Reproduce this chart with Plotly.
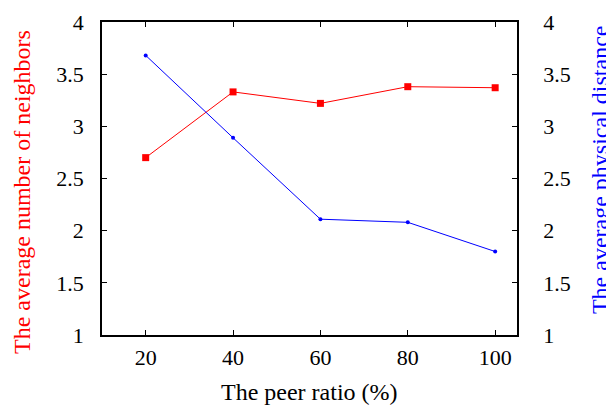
import plotly.graph_objects as go

peer_ratio = [20, 40, 60, 80, 100]
avg_neighbors = [2.70, 3.33, 3.22, 3.38, 3.37]
avg_distance = [3.68, 2.89, 2.11, 2.08, 1.80]
y_ticks = [1, 1.5, 2, 2.5, 3, 3.5, 4]
y_ticktext = ["1", "1.5", "2", "2.5", "3", "3.5", "4"]

FONT = "Liberation Serif"
FS = 22
TFS = 24

fig = go.Figure()
fig.add_trace(go.Scatter(
    x=peer_ratio, y=avg_neighbors, mode="lines+markers",
    line=dict(color="#ff0000", width=1),
    marker=dict(symbol="square", size=7, color="#ff0000"),
    yaxis="y", showlegend=False))
fig.add_trace(go.Scatter(
    x=peer_ratio, y=avg_distance, mode="lines+markers",
    line=dict(color="#0000ff", width=1),
    marker=dict(symbol="circle", size=4, color="#0000ff"),
    yaxis="y2", showlegend=False))

axis_common = dict(
    showgrid=False, zeroline=False, showline=True, linecolor="black", linewidth=1.5,
    ticks="inside", ticklen=5, tickcolor="black", tickwidth=1,
    tickfont=dict(family=FONT, size=FS, color="black"), automargin=False,
)

fig.update_layout(
    width=606, height=407,
    margin=dict(l=102, r=89, t=22, b=72),
    paper_bgcolor="white", plot_bgcolor="white",
    font=dict(family=FONT, size=FS, color="black"),
    xaxis=dict(**axis_common, range=[10, 105], tickvals=peer_ratio, mirror="ticks",
               ticklabelstandoff=2),
    yaxis=dict(**axis_common, range=[1, 4], tickvals=y_ticks, ticktext=y_ticktext,
               mirror="ticks", ticklabelstandoff=12),
    yaxis2=dict(**axis_common, range=[1, 4], tickvals=y_ticks, ticktext=y_ticktext,
                overlaying="y", side="right", ticklabelstandoff=20),
    annotations=[
        dict(text="The peer ratio (%)", xref="paper", yref="paper", x=0.5, y=0,
             xanchor="center", yanchor="middle", yshift=-57, showarrow=False,
             font=dict(family=FONT, size=TFS, color="black")),
        dict(text="The average number of neighbors", xref="paper", yref="paper", x=0, y=0.457,
             xanchor="center", yanchor="middle", xshift=-80, textangle=-90, showarrow=False,
             font=dict(family=FONT, size=TFS, color="#ff0000")),
        dict(text="The average physical distance", xref="paper", yref="paper", x=1, y=0.527,
             xanchor="center", yanchor="middle", xshift=83, textangle=-90, showarrow=False,
             font=dict(family=FONT, size=TFS, color="#0000ff")),
    ],
)

fig.write_html("out.html")
